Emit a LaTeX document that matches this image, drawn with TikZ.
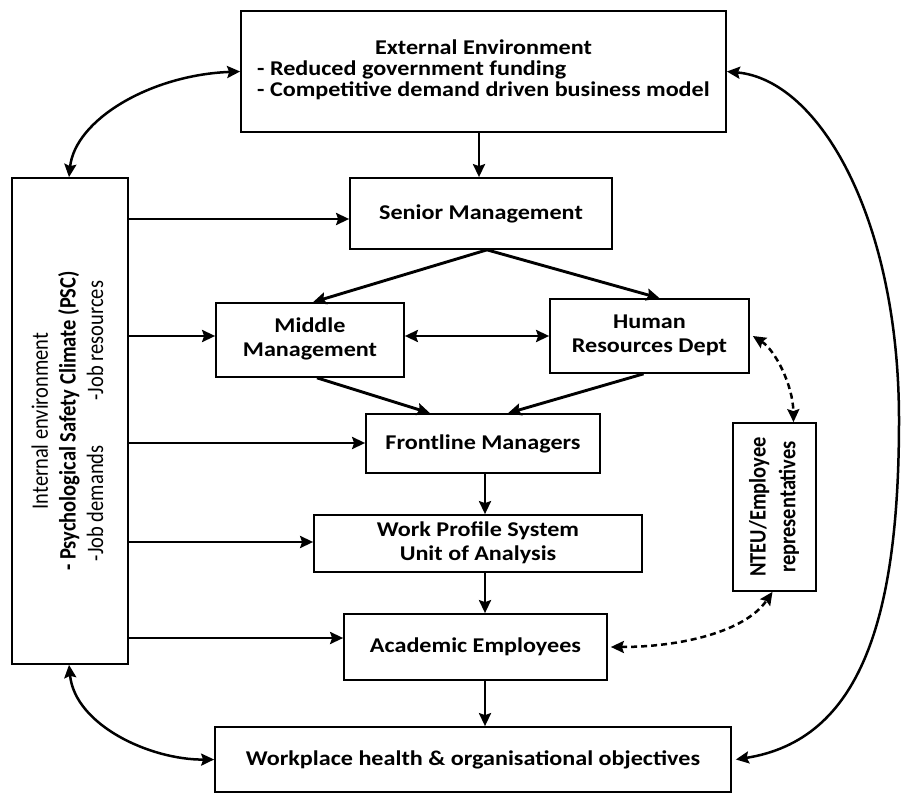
\documentclass[tikz,border=0pt]{standalone}
\usepackage{fontspec}
\setmainfont{Carlito}
\usepackage{graphicx}
\usetikzlibrary{arrows.meta}

% horizontal text is set slightly wide, vertical text slightly thick
\newcommand{\wide}[1]{\scalebox{1.15}[1]{#1}}
\newcommand{\upright}[1]{\rotatebox{90}{\scalebox{1}[1.15]{#1}}}
\newcommand{\lines}[1]{\begin{tabular}{@{}c@{}}#1\end{tabular}}

\tikzset{
  box/.style={draw, line width=1.7pt, inner sep=0pt, align=center,
              font=\fontsize{21}{24}\selectfont\bfseries},
  arr/.style={line width=2.9pt, -{Stealth[length=13pt,width=12pt,inset=2pt]}},
  darr/.style={line width=2.5pt,
               {Stealth[length=13pt,width=12pt,inset=2pt]}-{Stealth[length=13pt,width=12pt,inset=2pt]}},
  dsh/.style={dash pattern=on 6pt off 4pt},
}

\begin{document}
\begin{tikzpicture}[x=1pt,y=-1pt]
\useasboundingbox (0,0) rectangle (902,794);

% ---------- boxes ----------
\node[box, minimum width=485pt, minimum height=121pt] (ext) at (483.5,71.5)
  {\wide{\fontsize{21}{20.5}\selectfont\begin{tabular}{@{}l@{}}\multicolumn{1}{@{}c@{}}{External Environment}\\- Reduced government funding\\- Competitive demand driven business model\end{tabular}}};

\node[box, minimum width=116pt, minimum height=486pt] (lft) at (70,421)
  {\upright{\fontsize{20.5}{24}\selectfont\mdseries\lines{Internal environment\\\textbf{- Psychological Safety Climate (PSC)}\\-Job demands\hspace{45pt}-Job resources}}};

\node[box, minimum width=262pt, minimum height=71pt] (sen) at (481,213.5)
  {\wide{Senior Management}};
\node[box, minimum width=188pt, minimum height=74pt] (mid) at (310,340)
  {\wide{\lines{Middle\\Management}}};
\node[box, minimum width=199pt, minimum height=74pt] (hr) at (649.5,336)
  {\wide{\lines{Human\\Resources Dept}}};
\node[box, minimum width=234pt, minimum height=59pt] (fl) at (483,443.5)
  {\wide{Frontline Managers}};
\node[box, minimum width=328pt, minimum height=57pt] (wp) at (478,543.5)
  {\wide{\lines{Work Profile System\\Unit of Analysis}}};
\node[box, minimum width=263pt, minimum height=66pt] (ac) at (475.5,647)
  {\wide{Academic Employees}};
\node[box, minimum width=516pt, minimum height=65pt] (wpl) at (473,759.5)
  {\wide{Workplace health \& organisational objectives}};
\node[box, minimum width=83pt, minimum height=168pt] (nteu) at (774.5,507)
  {\upright{\fontsize{20.5}{26}\selectfont\lines{NTEU/Employee\\representatives}}};

% ---------- straight connectors ----------
\coordinate (ya) at (0,219);
\coordinate (yb) at (0,336);
\coordinate (yc) at (0,443);
\coordinate (yd) at (0,542);
\coordinate (ye) at (0,638);
\draw[arr] (lft.east |- ya) -- (sen.west |- ya);
\draw[arr] (lft.east |- yb) -- (mid.west |- yb);
\draw[arr] (lft.east |- yc) -- (fl.west |- yc);
\draw[arr] (lft.east |- yd) -- (wp.west |- yd);
\draw[arr] (lft.east |- ye) -- (ac.west |- ye);

\coordinate (xa) at (479,0);
\coordinate (xb) at (485,0);
\draw[arr] (xa |- ext.south) -- (xa |- sen.north);
\draw[arr] (xb |- fl.south) -- (xb |- wp.north);
\draw[arr] (xb |- wp.south) -- (xb |- ac.north);
\draw[arr] (xb |- ac.south) -- (xb |- wpl.north);

\draw[arr] ([xshift=6pt]sen.south) -- ([xshift=3pt]mid.north);
\draw[arr] ([xshift=6pt]sen.south) -- ([xshift=10pt]hr.north);
\draw[arr] ([xshift=7pt]mid.south) -- ([xshift=-53pt]fl.north);
\draw[arr] ([xshift=-6pt]hr.south) -- ([xshift=25pt]fl.north);
\draw[darr, line width=2.9pt] (mid.east |- yb) -- (hr.west |- yb);

% ---------- curved feedback connectors ----------
\draw[darr] (ext.west) .. controls (150,75) and (75,120) .. ([xshift=-1pt]lft.north);
\draw[darr] ([xshift=-1pt]lft.south) .. controls (75,725) and (150,760) .. (wpl.west);
\coordinate (rc) at (899,420);
\draw[darr] (ext.east) .. controls (820,80) and (899,220) .. (rc)
  .. controls (899,620) and (860,740) .. ([xshift=4pt]wpl.east);

% ---------- dashed links to the employee representatives ----------
\draw[darr, dsh] ([xshift=3pt]hr.east) .. controls (775,350) and (793,385) .. ([xshift=19pt]nteu.north);
\draw[darr, dsh] ([xshift=3pt]ac.east) .. controls (680,647) and (745,632) .. ([xshift=-2pt]nteu.south);
\end{tikzpicture}
\end{document}
